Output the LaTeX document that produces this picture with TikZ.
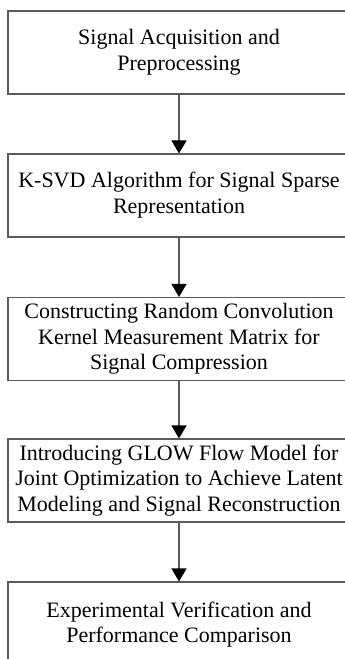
\documentclass[tikz,border=0pt]{standalone}
\usepackage{fontspec}
\setmainfont{Liberation Serif}
\usetikzlibrary{arrows.meta}
\definecolor{edgegray}{HTML}{5A5A5A}
\newcommand{\boxlines}[1]{\begin{tabular}{@{}c@{}}#1\end{tabular}\hspace*{24bp}}
\begin{document}
\begin{tikzpicture}[x=1bp,y=-1bp,
  stepbox/.style={draw=edgegray, line width=1.1bp, rectangle, minimum width=366bp, minimum height=83bp,
    inner sep=0pt, font=\fontsize{22bp}{25.5bp}\selectfont, text=black},
  flowarrow/.style={draw=edgegray, line width=1.1bp, -{Triangle[width=15bp,length=13bp,fill=black,color=black]}}]
\useasboundingbox (0,0) rectangle (344,659);
\node[stepbox] (s1) at (191,52.5) {\boxlines{Signal Acquisition and\\Preprocessing}};
\node[stepbox] (s2) at (191,195.5) {\boxlines{K-SVD Algorithm for Signal Sparse\\Representation}};
\node[stepbox] (s3) at (191,339) {\boxlines{Constructing Random Convolution\\Kernel Measurement Matrix for\\Signal Compression}};
\node[stepbox] (s4) at (191,480.5) {\boxlines{Introducing GLOW Flow Model for\\Joint Optimization to Achieve Latent\\Modeling and Signal Reconstruction}};
\node[stepbox, minimum height=86bp] (s5) at (191,625) {\boxlines{Experimental Verification and\\Performance Comparison}};
\draw[flowarrow] (s1.south -| 179,0) -- (s2.north -| 179,0);
\draw[flowarrow] (s2.south -| 179,0) -- (s3.north -| 179,0);
\draw[flowarrow] (s3.south -| 179,0) -- (s4.north -| 179,0);
\draw[flowarrow] (s4.south -| 179,0) -- (s5.north -| 179,0);
\end{tikzpicture}
\end{document}
